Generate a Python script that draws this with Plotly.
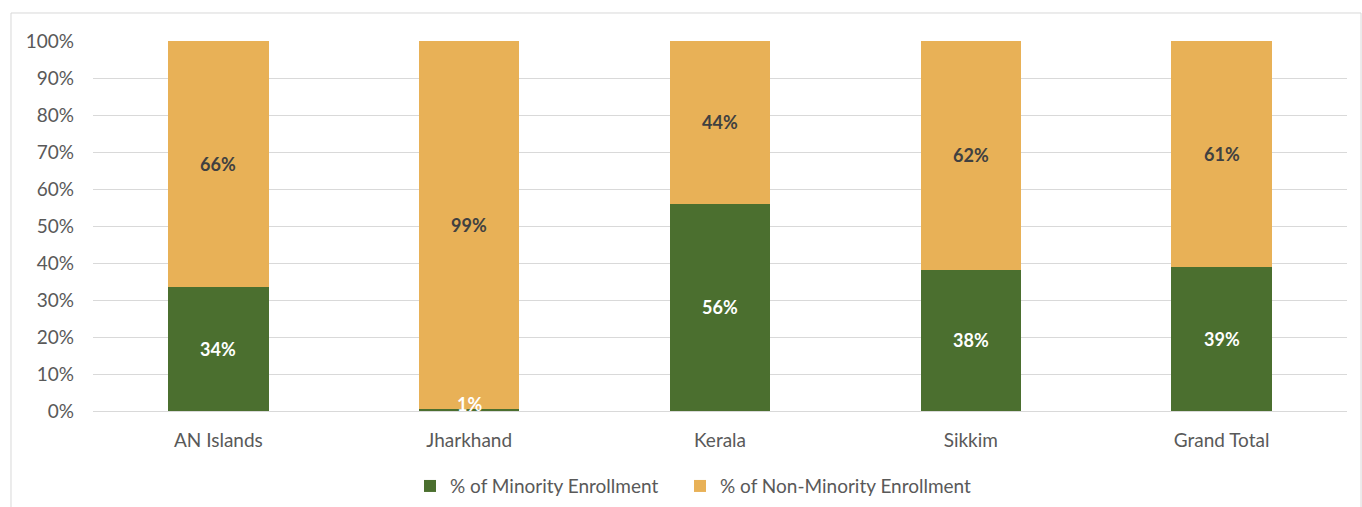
import plotly.graph_objects as go

categories = ["AN Islands", "Jharkhand", "Kerala", "Sikkim", "Grand Total"]
minority = [33.6, 0.6, 56.0, 38.2, 39.0]
non_minority = [100 - v for v in minority]
y_ticks = list(range(0, 101, 10))
y_tick_labels = [f"{t}%" for t in y_ticks]

GREEN = "#4B6F2F"
ORANGE = "#E8B157"
FONT = "Lato"

fig = go.Figure()
fig.add_trace(go.Bar(x=categories, y=minority, name="% of Minority Enrollment",
                     marker=dict(color=GREEN, line=dict(width=0)), legend="legend",
                     showlegend=True))
fig.add_trace(go.Bar(x=categories, y=non_minority, name="% of Non-Minority Enrollment",
                     marker=dict(color=ORANGE, line=dict(width=0)), legend="legend2",
                     showlegend=True))

annotations = []
for c, m, n in zip(categories, minority, non_minority):
    annotations.append(dict(x=c, y=max(m / 2, 2), text=f"<b>{round(m)}%</b>", showarrow=False,
                            font=dict(family=FONT, size=18, color="white"), yanchor="middle"))
    annotations.append(dict(x=c, y=m + n / 2, text=f"<b>{round(n)}%</b>", showarrow=False,
                            font=dict(family=FONT, size=18, color="#404040"), yanchor="middle"))

legend_common = dict(orientation="h", xanchor="left", y=-0.203, yanchor="middle",
                     font=dict(family=FONT, size=19, color="#595959"), itemwidth=30,
                     bgcolor="rgba(0,0,0,0)", visible=True)

fig.update_layout(
    barmode="stack",
    bargap=0.6,
    showlegend=True,
    width=1362, height=507,
    margin=dict(l=93, r=15, t=41, b=96, autoexpand=False),
    plot_bgcolor="white", paper_bgcolor="white",
    font=dict(family=FONT, size=19, color="#595959"),
    annotations=annotations,
    legend=dict(x=0.2528, **legend_common),
    legend2=dict(x=0.4681, **legend_common),
    shapes=[dict(type="rect", xref="paper", yref="paper", x0=-0.0654, x1=1.0112,
                 y0=-0.4, y1=1.0757, line=dict(color="#D9D9D9", width=1), layer="below")],
)
fig.update_yaxes(range=[0, 100], tickvals=y_ticks, ticktext=y_tick_labels,
                 showgrid=True, gridcolor="#D9D9D9", gridwidth=1, zeroline=False,
                 showline=False, ticklabelstandoff=18, automargin=False,
                 tickfont=dict(size=19, color="#595959"))
fig.update_xaxes(showline=True, linecolor="#D9D9D9", linewidth=1, ticks="",
                 ticklabelstandoff=12, automargin=False,
                 tickfont=dict(size=19, color="#595959"))

fig.write_html("out.html", post_script="document.body.style.margin='0px';",
               config={"displayModeBar": False})
